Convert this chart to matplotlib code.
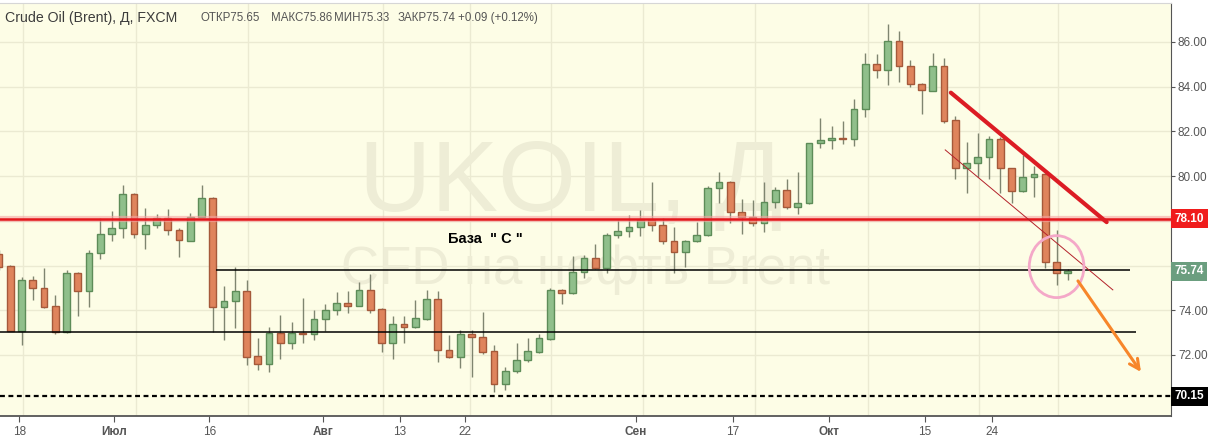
import matplotlib.pyplot as plt
from matplotlib.patches import Ellipse
import numpy as np

plt.rcParams['font.family'] = ['Liberation Sans', 'DejaVu Sans']

# daily candles (UKOIL, FXCM)
opens = [76.52, 75.98, 73.09, 75.34, 74.98, 74.18, 73.03, 75.65, 74.84, 76.55,
         77.40, 77.67, 79.20, 77.40, 77.80, 78.12, 77.58, 77.11, 78.19, 79.01,
         74.14, 74.40, 74.85, 71.94, 71.59, 72.97, 72.53, 73.00, 72.93, 73.60,
         74.00, 74.31, 74.21, 74.90, 74.04, 72.53, 73.38, 73.27, 73.61, 74.49,
         72.22, 71.93, 72.93, 72.80, 72.18, 70.69, 71.30, 71.78, 72.12, 72.72,
         74.91, 74.76, 75.70, 76.33, 75.88, 77.36, 77.55, 77.71, 78.03, 77.80,
         77.09, 76.59, 77.09, 77.36, 79.46, 79.73, 78.38, 78.16, 77.89, 78.86,
         79.37, 78.61, 78.79, 81.47, 81.60, 81.69, 81.65, 82.99, 85.00, 84.73,
         86.03, 84.91, 84.11, 83.82, 84.93, 82.50, 80.35, 80.57, 80.84, 81.65,
         80.35, 79.34, 79.95, 80.08, 76.15, 75.65]
highs = [76.70, 76.03, 75.48, 75.53, 75.88, 74.69, 75.80, 75.70, 76.70, 78.14,
         78.46, 79.60, 79.25, 78.56, 78.31, 78.52, 77.67, 78.34, 79.59, 79.05,
         75.09, 75.92, 75.36, 72.75, 73.27, 73.79, 73.49, 74.54, 74.01, 74.28,
         74.82, 74.88, 75.27, 75.62, 74.10, 73.75, 73.75, 74.46, 74.91, 74.86,
         72.90, 73.12, 73.12, 73.91, 72.45, 71.48, 72.53, 72.75, 72.94, 75.01,
         74.95, 76.43, 76.45, 76.97, 77.44, 78.04, 78.26, 78.49, 79.73, 78.12,
         77.74, 77.12, 77.95, 79.56, 80.16, 79.76, 78.98, 78.93, 79.73, 79.50,
         79.87, 80.19, 81.50, 82.59, 82.26, 82.45, 83.45, 85.49, 85.46, 86.80,
         86.49, 85.20, 84.15, 85.49, 85.27, 82.69, 81.54, 81.92, 81.80, 81.76,
         80.38, 80.95, 80.45, 80.12, 77.59, 75.86]
lows = [75.80, 73.05, 72.45, 74.46, 74.12, 72.94, 72.98, 73.75, 74.16, 76.31,
        77.11, 77.22, 77.22, 76.73, 77.67, 77.36, 76.40, 77.08, 78.15, 73.02,
        72.67, 73.22, 71.53, 71.33, 71.23, 71.82, 72.27, 72.55, 72.67, 73.09,
        73.80, 73.87, 74.18, 73.87, 72.15, 71.82, 72.53, 73.20, 73.58, 71.68,
        71.88, 71.41, 71.03, 72.05, 70.33, 70.44, 71.18, 71.70, 72.08, 72.68,
        74.28, 74.73, 75.45, 75.85, 75.68, 77.22, 77.29, 77.34, 77.55, 76.95,
        75.68, 75.92, 77.05, 77.33, 78.81, 77.92, 77.41, 77.78, 77.52, 78.56,
        78.52, 78.29, 78.76, 81.25, 81.20, 81.42, 81.35, 82.63, 84.40, 84.08,
        84.22, 84.00, 82.77, 83.80, 82.36, 79.86, 79.26, 79.98, 79.86, 79.23,
        78.79, 79.30, 79.05, 75.91, 75.13, 75.33]
closes = [75.94, 73.09, 75.34, 74.98, 74.16, 73.03, 75.65, 74.84, 76.55, 77.40,
          77.67, 79.20, 77.40, 77.80, 78.12, 77.58, 77.13, 78.19, 79.01, 74.14,
          74.40, 74.85, 71.93, 71.59, 72.97, 72.53, 72.97, 72.93, 73.60, 74.00,
          74.31, 74.21, 74.90, 74.01, 72.53, 73.38, 73.27, 73.64, 74.49, 72.22,
          71.93, 72.93, 72.80, 72.15, 70.70, 71.30, 71.78, 72.18, 72.75, 74.91,
          74.76, 75.70, 76.33, 75.88, 77.36, 77.55, 77.71, 78.03, 77.80, 77.09,
          76.59, 77.09, 77.36, 79.46, 79.73, 78.38, 78.16, 77.89, 78.86, 79.37,
          78.61, 78.79, 81.47, 81.60, 81.69, 81.65, 82.99, 85.00, 84.73, 86.03,
          84.91, 84.11, 83.84, 84.93, 82.48, 80.35, 80.57, 80.84, 81.65, 80.35,
          79.34, 79.95, 80.08, 76.15, 75.66, 75.74]

# levels and drawings (candle index, price)
resistance = 78.10
last_close = 75.74
support = 70.15
base_top = 75.80
base_bottom = 73.02
base_top_start = 19.3
level_end = [100.5, 101.1]
trend_x, trend_y = [84.6, 98.45], [83.73, 77.94]
channel_x, channel_y = [84.1, 99.0], [81.17, 74.91]
arrow_from, arrow_to = (95.9, 75.31), (101.5, 71.24)
circle_at = (94.0, 75.95)

tick_pos = [1.8, 10.2, 18.7, 28.8, 35.6, 41.4, 56.6, 65.2, 73.8, 82.3, 88.3]
tick_labels = ["18", "Июл", "16", "Авг", "13", "22", "Сен", "17", "Окт", "15", "24"]
months = {"Июл", "Авг", "Сен", "Окт"}
grid_pos = [2.1, 12.2, 22.1, 34.1, 41.9, 49.1, 57.2, 67.2, 77.2, 87.1, 94.1]
price_ticks = [72, 74, 76, 78, 80, 82, 84, 86]
hidden_ticks = [76, 78]  # covered by the price labels

fig = plt.figure(figsize=(12.11, 4.41), dpi=100)
ax = fig.add_axes([0, 25 / 441, 1171 / 1211, 413 / 441])
ax.set_facecolor('#fdfde6')

x = np.arange(len(opens))
o, c = np.array(opens), np.array(closes)
up = c >= o
low_body = np.minimum(o, c)
height = np.maximum(np.abs(c - o), 0.05)

ax.vlines(x, lows, highs, color='#7f8570', lw=1, zorder=3)
ax.bar(x[up], height[up], bottom=low_body[up], width=0.6,
       color='#90bf8b', edgecolor='#5d8c58', lw=1, zorder=4)
ax.bar(x[~up], height[~up], bottom=low_body[~up], width=0.6,
       color='#df845c', edgecolor='#a5593a', lw=1, zorder=4)

# watermark
ax.text(0.487, 0.56, 'UKOIL, Д', transform=ax.transAxes, fontsize=72,
        color='#eeedd6', ha='center', va='center', zorder=1)
ax.text(0.5, 0.354, 'CFD на нефть Brent', transform=ax.transAxes, fontsize=38,
        color='#eeedd6', ha='center', va='center', zorder=1)

# levels
ax.axhline(resistance, color='#f6a3a3', lw=4.5, alpha=0.6, zorder=5)
ax.axhline(resistance, color='#e3161b', lw=1.8, zorder=6)
ax.hlines(base_top, base_top_start, level_end[0], color='black', lw=1.1, zorder=6)
ax.hlines(base_bottom, -1, level_end[1], color='black', lw=1.1, zorder=6)
ax.axhline(support, color='black', lw=1.6, ls=(0, (2.2, 1.6)), zorder=6)

ax.plot(trend_x, trend_y, color='#dc1c24', lw=3, solid_capstyle='round', zorder=7)
ax.plot(channel_x, channel_y, color='#b3212a', lw=0.7, zorder=7)
ax.add_patch(Ellipse(circle_at, 4.86, 2.77, fill=False, ec='#f4a8c8', lw=2, zorder=7))
ax.annotate('', xy=arrow_to, xytext=arrow_from,
            arrowprops=dict(arrowstyle='->,head_length=0.7,head_width=0.35',
                            color='#f7862a', lw=2.2, shrinkA=0, shrinkB=0), zorder=7)
ax.text(39.9, 77.19, 'База  " С "', fontsize=10.5, fontweight='bold',
        ha='left', va='center', zorder=8)

ax.set_xlim(0.08, 104.17)
ax.set_ylim(69.27, 87.74)

ax.set_xticks(tick_pos)
ax.set_xticklabels(tick_labels)
for lab in ax.get_xticklabels():
    if lab.get_text() in months:
        lab.set_color('#333333')
        lab.set_fontweight('bold')
ax.set_xticks(grid_pos, minor=True)
ax.tick_params(axis='x', which='major', length=4, color='#555555',
               labelsize=8.5, labelcolor='#555555', pad=3)
ax.tick_params(axis='x', which='minor', length=0)
ax.xaxis.grid(True, which='minor', color='#ebead2', lw=1)

ax.yaxis.tick_right()
ax.set_yticks(price_ticks)
ax.set_yticklabels(['' if v in hidden_ticks else f'{v:.2f}' for v in price_ticks])
ax.tick_params(axis='y', length=3, color='#555555', labelsize=8.5,
               labelcolor='#555555', pad=2)
ax.yaxis.grid(True, color='#ebead2', lw=1)
ax.set_axisbelow(True)

ax.spines['left'].set_visible(False)
ax.spines['top'].set_color('#d6d6d6')
ax.spines['right'].set_color('#555555')
ax.spines['bottom'].set_color('#555555')
ax.spines['bottom'].set_linewidth(1.3)

yt = ax.get_yaxis_transform()
for val, fc in [(resistance, '#f01c1c'), (last_close, '#6b9e7f'), (support, 'black')]:
    ax.text(1.003, val, f'{val:.2f}', transform=yt, ha='left', va='center',
            color='white', fontsize=8.5, fontweight='bold', clip_on=False, zorder=10,
            bbox=dict(boxstyle='square,pad=0.3', fc=fc, ec='none'))

# header
hdr_y = 1 - 18 / 441
fig.text(5 / 1211, hdr_y, 'Crude Oil (Brent), Д, FXCM', fontsize=10.2,
         color='#3c3c3c', va='center')
ohlc = [('ОТКР', '75.65', 200), ('МАКС', '75.86', 271),
        ('МИН', '75.33', 334), ('ЗАКР', '75.74', 398)]
for name, val, px in ohlc:
    fig.text(px / 1211, hdr_y, name + val, fontsize=8.3, color='#555555', va='center')
fig.text(458 / 1211, hdr_y, '+0.09 (+0.12%)', fontsize=8.3, color='#555555', va='center')

fig.savefig('out.png', dpi=100, facecolor='white')
